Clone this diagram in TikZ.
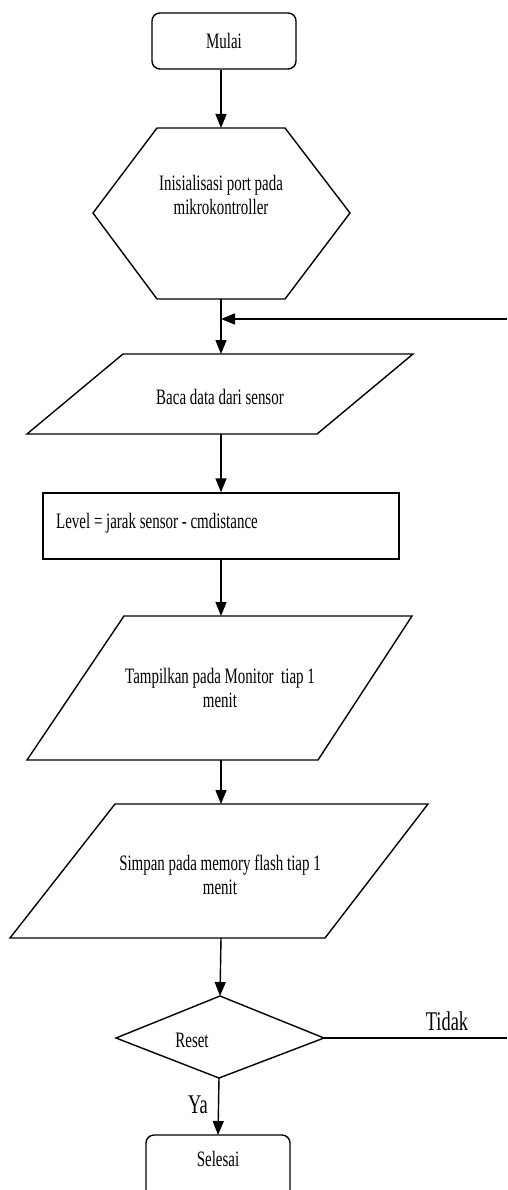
\documentclass[tikz,border=0pt]{standalone}
\usepackage{fontspec}
\setmainfont{Liberation Serif}
\newfontfamily\flowfont[FakeStretch=0.68]{Liberation Serif}
\usetikzlibrary{arrows.meta}
\begin{document}
\begin{tikzpicture}[x=1pt,y=-1pt,
  shapeline/.style={draw,line width=1.4pt,line join=miter},
  arrowline/.style={line width=1.4pt,-{Triangle[length=14pt,width=11pt]}},
  plainline/.style={line width=1.4pt},
  flowtext/.style={font=\flowfont\fontsize{22}{24}\selectfont,align=center,inner sep=0pt},
  bigtext/.style={font=\flowfont\fontsize{27}{30}\selectfont,inner sep=0pt},
  terminal/.style={shapeline,rounded corners=8pt,minimum width=144pt,minimum height=56pt,inner sep=0pt},
  ]
\clip (0,0) rectangle (507,1190);
\fill[white] (0,0) rectangle (507,1190);

% Mulai
\node[terminal,flowtext] (mulai) at (224,41) {Mulai};

% Hexagon
\coordinate (hexT) at (221,128);
\coordinate (hexB) at (221,299);
\draw[shapeline] (157,128) -- (285,128) -- (350,213) -- (285,299) -- (157,299) -- (93,213) -- cycle;
\node[flowtext] (init) at (221,195) {Inisialisasi port pada\\mikrokontroller};

% Parallelogram 1
\coordinate (p1T) at (221,354);
\coordinate (p1B) at (221,434);
\draw[shapeline] (123,354) -- (413,354) -- (317,434) -- (27,434) -- cycle;
\node[flowtext] (baca) at (220,397) {Baca data dari sensor};

% Process rectangle
\node[shapeline,minimum width=356pt,minimum height=66pt,inner sep=0pt] (calc) at (221,526) {};
\node[flowtext,anchor=west] (calctext) at (56,523) {Level = jarak sensor - cmdistance};

% Parallelogram 2
\coordinate (p2T) at (221,616);
\coordinate (p2B) at (221,760);
\draw[shapeline] (124,616) -- (412,616) -- (318,760) -- (27,760) -- cycle;
\node[flowtext] (tampil) at (220,688) {Tampilkan pada Monitor\ \ tiap 1\\menit};

% Parallelogram 3
\coordinate (p3T) at (221,804);
\coordinate (p3B) at (221,938);
\draw[shapeline] (115,804) -- (428,804) -- (325,938) -- (10,938) -- cycle;
\node[flowtext] (simpan) at (220,875) {Simpan pada memory flash tiap 1\\menit};

% Decision
\coordinate (diaT) at (220,996);
\coordinate (diaR) at (324,1038);
\coordinate (diaB) at (219,1078);
\draw[shapeline] (diaT) -- (diaR) -- (diaB) -- (116,1038) -- cycle;
\node[flowtext] (reset) at (192,1040) {Reset};

% Selesai
\coordinate (selT) at (218,1135);
\draw[shapeline,rounded corners=8pt] (146,1135) rectangle (290,1205);
\node[flowtext] (selesai) at (218,1159) {Selesai};

% Loop ends
\coordinate (fbR) at (507,319);
\coordinate (fbL) at (221,319);
\coordinate (tidakEnd) at (507,1038);

% Connectors
\draw[arrowline] (hexT |- mulai.south) -- (hexT);
\draw[arrowline] (hexB) -- (p1T);
\draw[arrowline] (fbR) -- (fbL);
\draw[arrowline] (p1B) -- (p1B |- calc.north);
\draw[arrowline] (p2T |- calc.south) -- (p2T);
\draw[arrowline] (p2B) -- (p3T);
\draw[arrowline] (p3B) -- (diaT);
\draw[plainline] (diaR) -- (tidakEnd);
\draw[arrowline] (diaB) -- (selT);

% Branch labels
\node[bigtext] (tidak) at (447,1021) {Tidak};
\node[bigtext] (ya) at (198,1105) {Ya};
\end{tikzpicture}
\end{document}
